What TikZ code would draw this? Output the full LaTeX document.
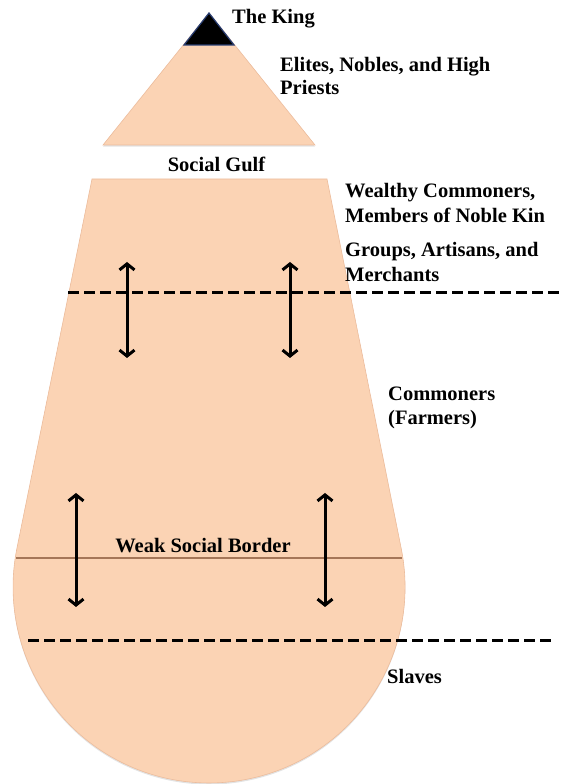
\documentclass[tikz,border=0pt]{standalone}
\usepackage{fontspec}
\setmainfont{Liberation Serif}
\usetikzlibrary{arrows.meta,shadows}
\definecolor{peach}{RGB}{251,211,180}
\definecolor{peachedge}{RGB}{236,188,156}
\definecolor{borderline}{RGB}{165,118,88}
\definecolor{kingedge}{RGB}{40,62,115}
\begin{document}
\begin{tikzpicture}[x=1pt,y=1pt,
  tierfill/.style={fill=peach, draw=peachedge, line width=0.6pt,
    drop shadow={opacity=0.22, shadow xshift=0pt, shadow yshift=-1.6pt}},
  dashline/.style={line width=3pt, dash pattern=on 11pt off 5pt},
  weakline/.style={draw=borderline, line width=1.2pt},
  mobility/.style={line width=3pt,
    arrows={Straight Barb[length=6pt,width=15pt,line width=3pt]-Straight Barb[length=6pt,width=15pt,line width=3pt]}},
  txt/.style={font=\bfseries\fontsize{20.5}{23}\selectfont, inner sep=0pt, anchor=base west}]
\useasboundingbox (0,0) rectangle (560,784);
\clip (0,0) rectangle (560,784);
% main body
\path[tierfill] (92,605) -- (327,605) -- (401.1,236.1)
  arc[start angle=11.5, end angle=-191.5, radius=196] -- cycle;
% elites triangle
\path[tierfill] (209,771) -- (315,639) -- (103,639) -- cycle;
% king triangle
\path[fill=black, draw=kingedge, line width=1.2pt] (209,771) -- (234,739) -- (184,739) -- cycle;
% weak border
\coordinate (wa) at (16,226);
\coordinate (wb) at (402,226);
\draw[weakline] (wa) -- (wb);
% dashed borders
\coordinate (d1a) at (68,491);
\coordinate (d1b) at (560,491);
\draw[dashline] (d1a) -- (d1b);
\coordinate (d2a) at (28,143);
\coordinate (d2b) at (553,143);
\draw[dashline] (d2a) -- (d2b);
% arrows
\coordinate (u1t) at (127,522); \coordinate (u1b) at (127,426);
\coordinate (u2t) at (290,522); \coordinate (u2b) at (290,426);
\coordinate (l1t) at (76,291);  \coordinate (l1b) at (76,177);
\coordinate (l2t) at (325,291); \coordinate (l2b) at (325,177);
\draw[mobility] (u1t) -- (u1b);
\draw[mobility] (u2t) -- (u2b);
\draw[mobility] (l1t) -- (l1b);
\draw[mobility] (l2t) -- (l2b);
% labels
\node[txt] (king) at (232,760) {The King};
\node[txt] (elite1) at (280,712) {Elites, Nobles, and High};
\node[txt] (elite2) at (280,689) {Priests};
\node[txt, anchor=base] (gulf) at (216.5,612) {Social Gulf};
\node[txt] (w1) at (345,586) {Wealthy Commoners,};
\node[txt] (w2) at (345,561) {Members of Noble Kin};
\node[txt] (w3) at (345,527) {Groups, Artisans, and};
\node[txt] (w4) at (345,502) {Merchants};
\node[txt] (c1) at (388,383) {Commoners};
\node[txt] (c2) at (388,359) {(Farmers)};
\node[txt, anchor=base] (weak) at (203,231) {Weak Social Border};
\node[txt] (slaves) at (387,100) {Slaves};
\end{tikzpicture}
\end{document}
